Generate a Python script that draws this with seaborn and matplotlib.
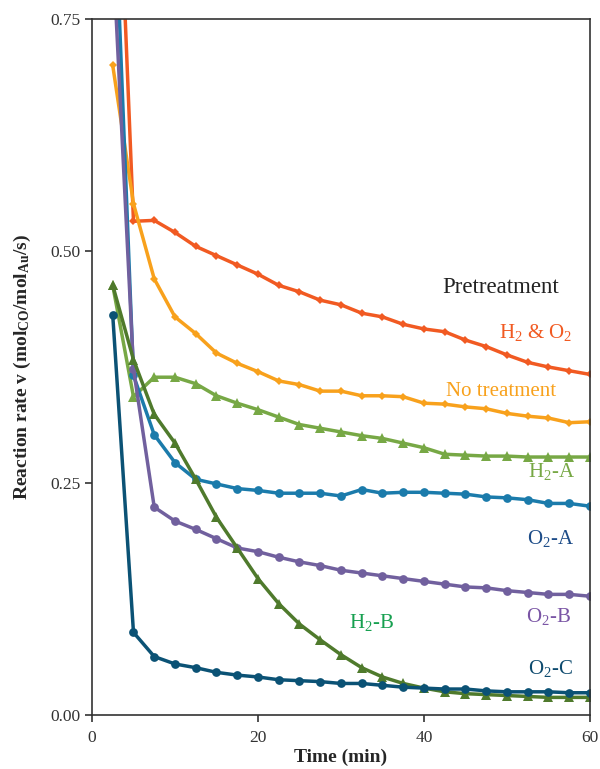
import matplotlib
matplotlib.use("Agg")
import matplotlib.pyplot as plt
import seaborn as sns

# Sampling times (min)
time = [2.5, 5, 7.5, 10, 12.5, 15, 17.5, 20, 22.5, 25, 27.5, 30,
        32.5, 35, 37.5, 40, 42.5, 45, 47.5, 50, 52.5, 55, 57.5, 60]

# Reaction rates (mol_CO/mol_Au/s)
h2_o2 = [1.08, 0.532, 0.533, 0.520, 0.505, 0.495, 0.485, 0.475, 0.463, 0.456, 0.447, 0.442,
         0.433, 0.429, 0.421, 0.416, 0.413, 0.404, 0.397, 0.388, 0.380, 0.375, 0.371, 0.367]
no_treatment = [0.700, 0.551, 0.470, 0.429, 0.411, 0.390, 0.379, 0.370, 0.360, 0.356, 0.349, 0.349,
                0.344, 0.344, 0.343, 0.336, 0.335, 0.332, 0.330, 0.325, 0.322, 0.320, 0.315, 0.316]
h2_a = [0.463, 0.343, 0.364, 0.364, 0.357, 0.344, 0.336, 0.329, 0.321, 0.313, 0.309, 0.305,
        0.301, 0.298, 0.293, 0.288, 0.281, 0.280, 0.279, 0.279, 0.278, 0.278, 0.278, 0.278]
o2_a = [0.934, 0.366, 0.302, 0.272, 0.254, 0.249, 0.244, 0.242, 0.239, 0.239, 0.239, 0.236,
        0.243, 0.239, 0.240, 0.240, 0.239, 0.238, 0.235, 0.234, 0.232, 0.228, 0.228, 0.225]
o2_b = [0.827, 0.373, 0.224, 0.209, 0.200, 0.190, 0.180, 0.176, 0.170, 0.165, 0.161, 0.156,
        0.153, 0.150, 0.147, 0.144, 0.141, 0.138, 0.137, 0.134, 0.132, 0.130, 0.130, 0.128]
h2_b = [0.463, 0.383, 0.324, 0.293, 0.254, 0.213, 0.180, 0.147, 0.120, 0.098, 0.081, 0.065,
        0.051, 0.041, 0.034, 0.029, 0.025, 0.023, 0.022, 0.021, 0.020, 0.019, 0.019, 0.019]
o2_c = [0.431, 0.089, 0.063, 0.055, 0.051, 0.046, 0.043, 0.041, 0.038, 0.037, 0.036, 0.034,
        0.034, 0.032, 0.030, 0.029, 0.028, 0.028, 0.026, 0.025, 0.025, 0.025, 0.024, 0.024]

sns.set_theme(style="ticks")
plt.rcParams["font.family"] = ["Liberation Serif", "DejaVu Serif"]
plt.rcParams["mathtext.fontset"] = "custom"
plt.rcParams["mathtext.rm"] = "Liberation Serif"
plt.rcParams["mathtext.it"] = "Liberation Serif:italic"
plt.rcParams["mathtext.bf"] = "Liberation Serif:bold"

fig = plt.figure(figsize=(6, 7.69), dpi=100)
ax = fig.add_axes([0.1533, 0.0702, 0.83, 0.9051])

# (values, line colour, marker, marker size)
series = [
    (h2_o2, "#f15a22", "D", 4.5),
    (no_treatment, "#f8a11c", "D", 4.5),
    (h2_a, "#77a845", "^", 6.5),
    (o2_a, "#1b7bab", "o", 6.3),
    (o2_b, "#71609e", "o", 6.3),
    (h2_b, "#4f7a2c", "^", 6.5),
    (o2_c, "#0b5275", "o", 6.3),
]
for vals, col, mk, ms in series:
    sns.lineplot(x=time, y=vals, ax=ax, color=col, marker=mk, markersize=ms,
                 markeredgewidth=0, linewidth=2.5, sort=False, estimator=None)

ax.set_xlim(0, 60)
ax.set_ylim(0, 0.75)
ax.set_xticks([0, 20, 40, 60])
ax.set_yticks([0, 0.25, 0.5, 0.75])
ax.set_yticklabels(["0.00", "0.25", "0.50", "0.75"])
ax.tick_params(axis="both", direction="out", length=5, width=1.2,
               labelsize=12.5, colors="#333333", labelcolor="#333333")
ax.tick_params(axis="x", pad=6)
for sp in ax.spines.values():
    sp.set_visible(True)
    sp.set_linewidth(1.2)
    sp.set_color("#333333")

ax.set_xlabel("Time (min)", fontsize=14, fontweight="bold", labelpad=2)
ax.set_ylabel(r"Reaction rate v (mol$_{\mathbf{CO}}$/mol$_{\mathbf{Au}}$/s)",
              fontsize=14, fontweight="bold", labelpad=12)

lbl = dict(fontsize=15, ha="center", va="center")
ax.text(49.3, 0.461, "Pretreatment", color="#222222", fontsize=16.5, ha="center", va="center")
ax.text(53.5, 0.412, r"H$_2$ & O$_2$", color="#f15a22", **lbl)
ax.text(49.3, 0.349, "No treatment", color="#f8a11c", **lbl)
ax.text(55.3, 0.262, r"H$_2$-A", color="#77a845", **lbl)
ax.text(55.2, 0.190, r"O$_2$-A", color="#1d4c88", **lbl)
ax.text(55.0, 0.106, r"O$_2$-B", color="#7a55a5", **lbl)
ax.text(33.7, 0.100, r"H$_2$-B", color="#17a050", **lbl)
ax.text(55.2, 0.050, r"O$_2$-C", color="#0d4a6e", **lbl)

fig.savefig("out.png", dpi=100)
